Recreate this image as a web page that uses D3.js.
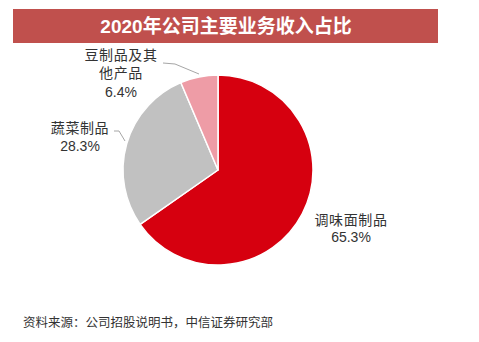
<!DOCTYPE html>
<html>
<head>
<meta charset="utf-8">
<script src="https://cdn.jsdelivr.net/npm/d3@7"></script>
<style>
  html, body { margin: 0; padding: 0; background: #fff; }
  svg { display: block; }
  text { font-family: "Liberation Sans", Arial, "Noto Sans CJK SC", sans-serif; }
</style>
</head>
<body>
<svg id="chart" width="479" height="342"></svg>
<script>
// 2020年公司主要业务收入占比
const title = "2020年公司主要业务收入占比";
const source = "资料来源：公司招股说明书，中信证券研究部";
const categories = ["调味面制品", "蔬菜制品", "豆制品及其他产品"];
const values = [65.3, 28.3, 6.4];
// label lines as drawn beside each slice
const labelLines = [["调味面制品"], ["蔬菜制品"], ["豆制品及其", "他产品"]];
const colors = ["#d6000f", "#c1c1c1", "#ee9ca6"];

// label placement (offset of label block centre from pie centre, line height) and leader lines
const labelLayout = [
  { dx: 133, dy: 58.5, lh: 17, leader: null },
  { dx: -138, dy: -33, lh: 18, leader: [[-93, -29], [-99, -39], [-104, -39]] },
  { dx: -97, dy: -97, lh: 18.5, leader: [[-19, -96], [-43, -106], [-55, -107]] }
];

const svg = d3.select("#chart");

// title bar
svg.append("rect")
  .attr("x", 13).attr("y", 9).attr("width", 425).attr("height", 34)
  .attr("fill", "#c0504d");
svg.append("text")
  .attr("x", 226).attr("y", 33)
  .attr("text-anchor", "middle")
  .attr("fill", "#fff")
  .attr("font-size", 19)
  .attr("font-weight", "bold")
  .text(title);

// pie
const cx = 218, cy = 170, R = 95;
const g = svg.append("g").attr("transform", `translate(${cx},${cy})`);
const data = categories.map((c, i) => ({ name: c, value: values[i], idx: i }));
const pie = d3.pie().sort(null).value(d => d.value);
const arc = d3.arc().innerRadius(0).outerRadius(R);
const arcs = pie(data);

g.selectAll("path.slice")
  .data(arcs)
  .join("path")
  .attr("class", "slice")
  .attr("d", arc)
  .attr("fill", d => colors[d.data.idx])
  .attr("stroke", "#fff")
  .attr("stroke-width", 1.5)
  .attr("stroke-linejoin", "round");

// leader lines
const line = d3.line();
arcs.forEach(a => {
  const lay = labelLayout[a.data.idx];
  if (!lay.leader) return;
  g.append("path")
    .attr("d", line(lay.leader))
    .attr("fill", "none")
    .attr("stroke", "#a6a6a6")
    .attr("stroke-width", 1);
});

// labels
const fmt = d3.format(".1f");
arcs.forEach(a => {
  const i = a.data.idx;
  const lay = labelLayout[i];
  const lines = labelLines[i].concat([fmt(a.data.value) + "%"]);
  const y0 = lay.dy - (lines.length - 1) * lay.lh / 2;
  const t = g.append("text")
    .attr("text-anchor", "middle")
    .attr("font-size", 14)
    .attr("fill", "#333");
  lines.forEach((s, k) => {
    t.append("tspan")
      .attr("x", lay.dx)
      .attr("y", y0 + k * lay.lh + 5)
      .attr("letter-spacing", k < lines.length - 1 ? 0.6 : 0)
      .text(s);
  });
});

// source note
svg.append("text")
  .attr("x", 23).attr("y", 327)
  .attr("font-size", 12.5)
  .attr("fill", "#333")
  .text(source);
</script>
</body>
</html>
